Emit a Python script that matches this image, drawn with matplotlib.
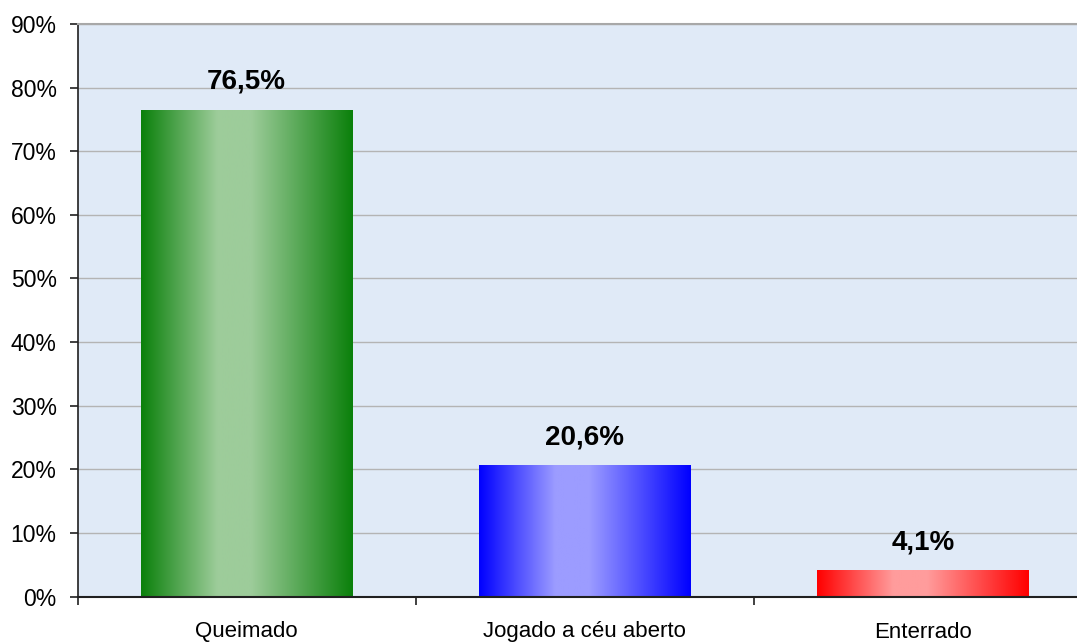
import numpy as np
import matplotlib.pyplot as plt
from matplotlib.colors import LinearSegmentedColormap

plt.rcParams['font.family'] = ['Liberation Sans', 'DejaVu Sans']

categories = ["Queimado", "Jogado a céu aberto", "Enterrado"]
values = [76.5, 20.6, 4.1]
value_labels = ["76,5%", "20,6%", "4,1%"]
edge_colors = ["#0b800b", "#0000ff", "#ff0000"]
mid_colors = ["#9dcc9a", "#9c9cff", "#ff9c9c"]
yticks = [0, 10, 20, 30, 40, 50, 60, 70, 80, 90]

fig = plt.figure(figsize=(10.77, 6.43), dpi=100)
ax = fig.add_axes([77.5 / 1077, 46.5 / 643, (1092 - 77.5) / 1077, (596.5 - 24) / 643])
ax.set_facecolor("#e0eaf7")

x = np.arange(len(categories))
w = 0.624
bars = ax.bar(x, values, width=w, color="none", edgecolor="none", zorder=2)

grad = np.linspace(0, 1, 256).reshape(1, -1)
for i, b in enumerate(bars):
    cmap = LinearSegmentedColormap.from_list(
        "g%d" % i, [(0, edge_colors[i]), (0.36, mid_colors[i]), (0.52, mid_colors[i]), (1, edge_colors[i])])
    im = ax.imshow(grad, cmap=cmap, aspect="auto", zorder=2,
                   extent=(x[i] - w / 2, x[i] + w / 2, 0, values[i]))
    im.set_clip_path(b)
    ax.annotate(value_labels[i], (x[i], values[i]), xytext=(0, 11), textcoords="offset points",
                ha="center", va="bottom", fontsize=20, fontweight="bold")

ax.set_xlim(-0.5, 2.5)
ax.set_ylim(0, 90)
ax.set_yticks(yticks)
ax.set_yticklabels(["%d%%" % t for t in yticks])
ax.yaxis.grid(True, color="#b4b4b4", linewidth=1)
ax.set_axisbelow(True)

ax.set_xticks([-0.5, 0.5, 1.5, 2.5])
ax.set_xticklabels([])
ax.set_xticks(x, minor=True)
ax.set_xticklabels(categories, minor=True)
ax.tick_params(axis="x", which="minor", length=0, pad=18, labelsize=16)
ax.tick_params(axis="x", which="major", length=6, width=1.2, color="#202020")
ax.tick_params(axis="y", length=6, width=1.2, color="#202020", pad=9, labelsize=16.5)

ax.spines["right"].set_visible(False)
ax.spines["top"].set_color("#a8a8a8")
ax.spines["top"].set_linewidth(1.5)
ax.spines["left"].set_color("#202020")
ax.spines["bottom"].set_color("#202020")
ax.spines["left"].set_linewidth(1.2)
ax.spines["bottom"].set_linewidth(1.5)

fig.savefig("out.png", dpi=100)
